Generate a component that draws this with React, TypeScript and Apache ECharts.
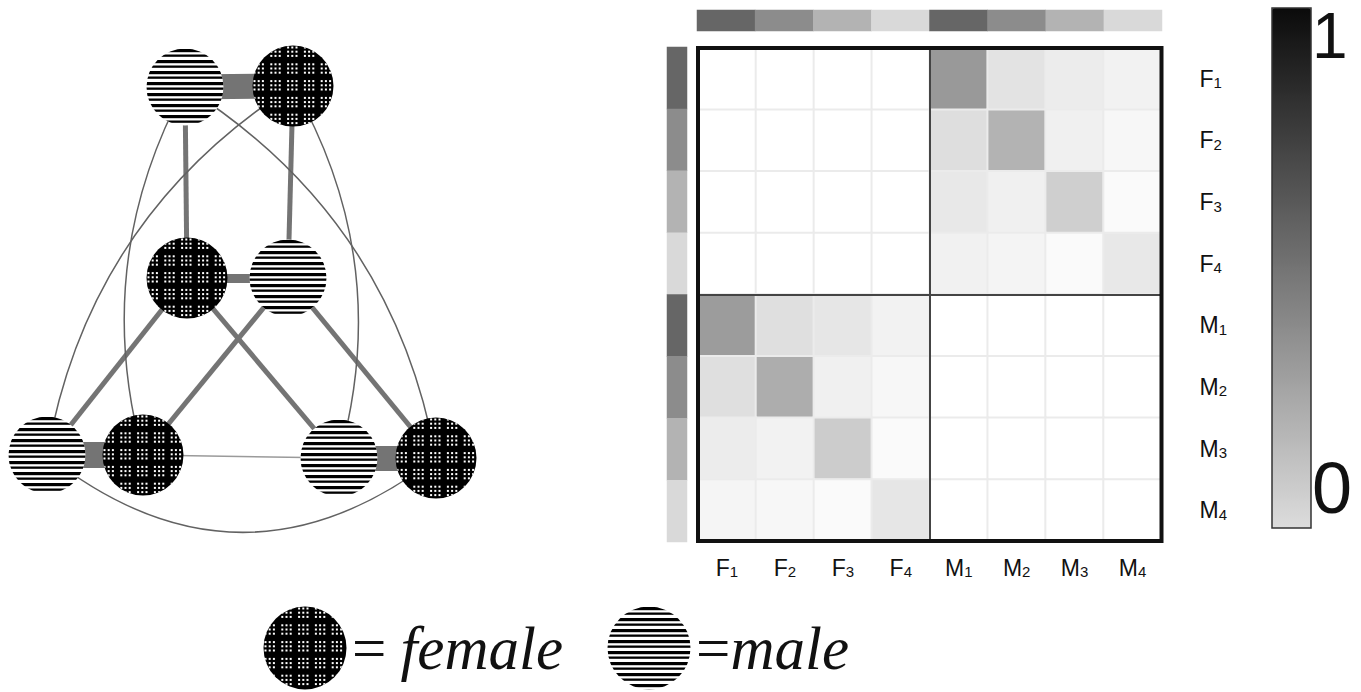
import React, { useEffect, useRef } from 'react';
import * as echarts from 'echarts';

// ---------- heatmap data ----------
const sexCategories = ['F1', 'F2', 'F3', 'F4', 'M1', 'M2', 'M3', 'M4'];
// rows F1..F4, columns M1..M4
const femaleRowsMaleCols = [
  [0.4, 0.11, 0.075, 0.05],
  [0.13, 0.3, 0.06, 0.03],
  [0.09, 0.06, 0.19, 0.02],
  [0.055, 0.045, 0.02, 0.09],
];
// rows M1..M4, columns F1..F4
const maleRowsFemaleCols = [
  [0.39, 0.125, 0.1, 0.05],
  [0.125, 0.32, 0.06, 0.03],
  [0.075, 0.05, 0.2, 0.02],
  [0.04, 0.03, 0.02, 0.1],
];
const sameSexValue = 0;
// group shade level of each category (4 = darkest)
const stripLevels = [4, 3, 2, 1, 4, 3, 2, 1];
const colorbarLabels = ['1', '0'];

// ---------- network data ----------
const nodeNames = ['Mtop', 'Ftop', 'Fmid', 'Mmid', 'MBL', 'FBL', 'MBR', 'FBR'];
const nodeSex = ['male', 'female', 'female', 'male', 'male', 'female', 'male', 'female'];
const nodeX = [185, 293, 187, 288, 47, 143, 339, 436];
const nodeY = [87, 86, 278, 278, 455, 455, 458, 458];
const linkSource = [0, 2, 4, 6, 0, 1, 2, 2, 3, 3, 5, 0, 1, 0, 1, 4];
const linkTarget = [1, 3, 5, 7, 2, 3, 4, 6, 5, 7, 6, 5, 6, 7, 4, 7];
const linkStrength = [1, 0.36, 1.04, 1, 0.2, 0.2, 0.2, 0.2, 0.2, 0.2, 0.06, 0.06, 0.06, 0.06, 0.06, 0.06];
const linkCurveness = [0, 0, 0, 0, 0, 0, 0, 0, 0, 0, 0, -0.2, 0.21, 0.22, -0.22, -0.39];
const legendNames = ['female', 'male'];

function makeNodeImage(sex: string, size: number): string {
  const c = document.createElement('canvas');
  c.width = size;
  c.height = size;
  const ctx = c.getContext('2d')!;
  ctx.save();
  ctx.beginPath();
  ctx.arc(size / 2, size / 2, size / 2 - 0.5, 0, Math.PI * 2);
  ctx.closePath();
  ctx.clip();
  if (sex === 'male') {
    ctx.fillStyle = '#ffffff';
    ctx.fillRect(0, 0, size, size);
    ctx.fillStyle = '#000000';
    let k = 0;
    for (let y = 1; y < size; y += 5.5) {
      ctx.fillRect(0, y, size, k % 2 === 0 ? 3.2 : 2.3);
      k++;
    }
  } else {
    ctx.fillStyle = '#000000';
    ctx.fillRect(0, 0, size, size);
    ctx.fillStyle = '#ffffff';
    const pitch = 4.2;
    const n = Math.ceil(size / pitch);
    for (let i = 0; i < n; i++) {
      for (let j = 0; j < n; j++) {
        if (i % 4 === 3 || j % 4 === 3) continue;
        ctx.fillRect(1.5 + i * pitch, 1.5 + j * pitch, 2, 2);
      }
    }
  }
  ctx.restore();
  return c.toDataURL();
}

export default function App() {
  const ref = useRef<HTMLDivElement>(null);
  useEffect(() => {
    const chart = echarts.init(ref.current!, null, { renderer: 'svg' });

    const femaleImg = 'image://' + makeNodeImage('female', 82);
    const maleImg = 'image://' + makeNodeImage('male', 78);
    const femaleLegendImg = 'image://' + makeNodeImage('female', 84);
    const maleLegendImg = 'image://' + makeNodeImage('male', 84);

    const heatData: number[][] = [];
    for (let r = 0; r < sexCategories.length; r++) {
      for (let c = 0; c < sexCategories.length; c++) {
        let v = sameSexValue;
        if (r < 4 && c >= 4) v = femaleRowsMaleCols[r][c - 4];
        else if (r >= 4 && c < 4) v = maleRowsFemaleCols[r - 4][c];
        heatData.push([c, r, v]);
      }
    }
    const topStrip = stripLevels.map((lv, i) => [i, 0, lv]);
    const leftStrip = stripLevels.map((lv, i) => [0, i, lv]);

    const labelFmt = (v: string) => `{n|${v.charAt(0)}}{s|${v.slice(1)}}`;
    const labelRich = {
      n: { fontSize: 23, fontFamily: 'Liberation Sans', color: '#111', lineHeight: 23, verticalAlign: 'top' },
      s: { fontSize: 15, fontFamily: 'Liberation Sans', color: '#111', lineHeight: 15, verticalAlign: 'bottom', padding: [17, 0, 0, 0] },
    };

    const nodes = nodeNames.map((name, i) => ({
      name,
      value: [nodeX[i], nodeY[i]],
      category: nodeSex[i] === 'female' ? 0 : 1,
    }));
    const links = linkSource.map((s, i) => ({
      source: s,
      target: linkTarget[i],
      lineStyle: {
        width: linkStrength[i] * 25,
        color: linkStrength[i] >= 0.2 ? '#747474' : linkCurveness[i] === 0 ? '#9a9a9a' : '#626262',
        curveness: linkCurveness[i],
        opacity: 1,
      },
    }));

    const legendText = (name: string) => (name === 'female' ? `{eq|=}{wf|${name}}` : `{eq|=}{w|${name}}`);
    const legendRich = {
      eq: { fontFamily: 'Liberation Serif', fontSize: 61, color: '#111' },
      w: { fontFamily: 'Liberation Serif', fontStyle: 'italic', fontSize: 61, color: '#111' },
      wf: { fontFamily: 'Liberation Serif', fontStyle: 'italic', fontSize: 61, color: '#111', padding: [0, 0, 0, 14] },
    };

    const option: any = {
      animation: false,
      backgroundColor: '#ffffff',
      grid: [
        { left: 0, top: 0, width: 490, height: 560, show: false },
        { left: 698, top: 48, width: 463.5, height: 493, show: true, borderColor: '#111', borderWidth: 4, backgroundColor: 'transparent', z: 12 },
        { left: 697, top: 10, width: 465, height: 21, show: false },
        { left: 667, top: 47, width: 20, height: 495, show: false },
      ],
      xAxis: [
        { gridIndex: 0, type: 'value', min: 0, max: 490, show: false },
        {
          gridIndex: 1, type: 'category', data: sexCategories, position: 'bottom', z: 11,
          axisLine: { show: false }, axisTick: { show: false },
          axisLabel: { interval: 0, margin: 15, formatter: labelFmt, rich: labelRich },
          splitLine: { show: true, interval: (i: number) => i === 0 || i === 4, lineStyle: { color: '#444', width: 2 } },
        },
        { gridIndex: 2, type: 'category', data: sexCategories, show: false },
        { gridIndex: 3, type: 'category', data: ['s'], show: false },
      ],
      yAxis: [
        { gridIndex: 0, type: 'value', min: 0, max: 560, inverse: true, show: false },
        {
          gridIndex: 1, type: 'category', data: sexCategories, inverse: true, position: 'right', z: 11,
          axisLine: { show: false }, axisTick: { show: false },
          axisLabel: { interval: 0, margin: 38, align: 'left', formatter: labelFmt, rich: labelRich },
          splitLine: { show: true, interval: (i: number) => i === 0 || i === 4, lineStyle: { color: '#444', width: 2 } },
        },
        { gridIndex: 2, type: 'category', data: ['s'], show: false },
        { gridIndex: 3, type: 'category', data: sexCategories, inverse: true, show: false },
      ],
      visualMap: [
        { type: 'continuous', show: false, min: 0, max: 1, seriesIndex: 1, dimension: 2, inRange: { color: ['#ffffff', '#000000'] } },
        { type: 'continuous', show: false, min: 1, max: 4, seriesIndex: [2, 3], dimension: 2, inRange: { color: ['#d9d9d9', '#666666'] } },
        {
          type: 'continuous', show: true, min: 0, max: 1, seriesIndex: 4, calculable: false, hoverLink: false,
          orient: 'vertical', left: 1272, top: 8, padding: 0, itemWidth: 39, itemHeight: 520,
          inRange: { color: ['#dcdcdc', '#0b0b0b'] }, text: null,
        },
      ],
      legend: [
        {
          data: [{ name: legendNames[0], icon: femaleLegendImg }], left: 263, top: 606, padding: 0,
          itemWidth: 84, itemHeight: 84, itemGap: 0, selectedMode: false, formatter: legendText,
          textStyle: { rich: legendRich },
        },
        {
          data: [{ name: legendNames[1], icon: maleLegendImg }], left: 607, top: 606, padding: 0,
          itemWidth: 84, itemHeight: 84, itemGap: 0, selectedMode: false, formatter: legendText,
          textStyle: { rich: legendRich },
        },
      ],
      graphic: [
        { type: 'rect', shape: { x: 1272, y: 8, width: 39, height: 520 }, style: { fill: 'none', stroke: '#333', lineWidth: 1.5 }, z: 100 },
        { type: 'text', x: 1312, y: 36, style: { text: colorbarLabels[0], fontSize: 64, fontFamily: 'Liberation Sans', fill: '#111', verticalAlign: 'middle', align: 'left' }, z: 100 },
        { type: 'text', x: 1312, y: 488, style: { text: colorbarLabels[1], fontSize: 72, fontFamily: 'Liberation Sans', fill: '#111', verticalAlign: 'middle', align: 'left' }, z: 100 },
      ],
      series: [
        {
          type: 'graph', coordinateSystem: 'cartesian2d', xAxisIndex: 0, yAxisIndex: 0,
          data: nodes, links,
          categories: [
            { name: 'female', symbol: femaleImg, symbolSize: 82 },
            { name: 'male', symbol: maleImg, symbolSize: 78 },
          ],
          lineStyle: { opacity: 1 },
          label: { show: false },
          emphasis: { disabled: true },
          silent: true,
        },
        {
          type: 'heatmap', xAxisIndex: 1, yAxisIndex: 1, data: heatData,
          itemStyle: { borderColor: '#ebebeb', borderWidth: 2 },
          emphasis: { disabled: true }, silent: true,
        },
        { type: 'heatmap', xAxisIndex: 2, yAxisIndex: 2, data: topStrip, emphasis: { disabled: true }, silent: true },
        { type: 'heatmap', xAxisIndex: 3, yAxisIndex: 3, data: leftStrip, emphasis: { disabled: true }, silent: true },
        { type: 'scatter', xAxisIndex: 0, yAxisIndex: 0, data: [], silent: true },
      ],
    };
    chart.setOption(option);
    return () => chart.dispose();
  }, []);
  return <div ref={ref} style={{ position: 'absolute', left: 0, top: 0, width: 1361, height: 692, background: '#fff' }} />;
}
